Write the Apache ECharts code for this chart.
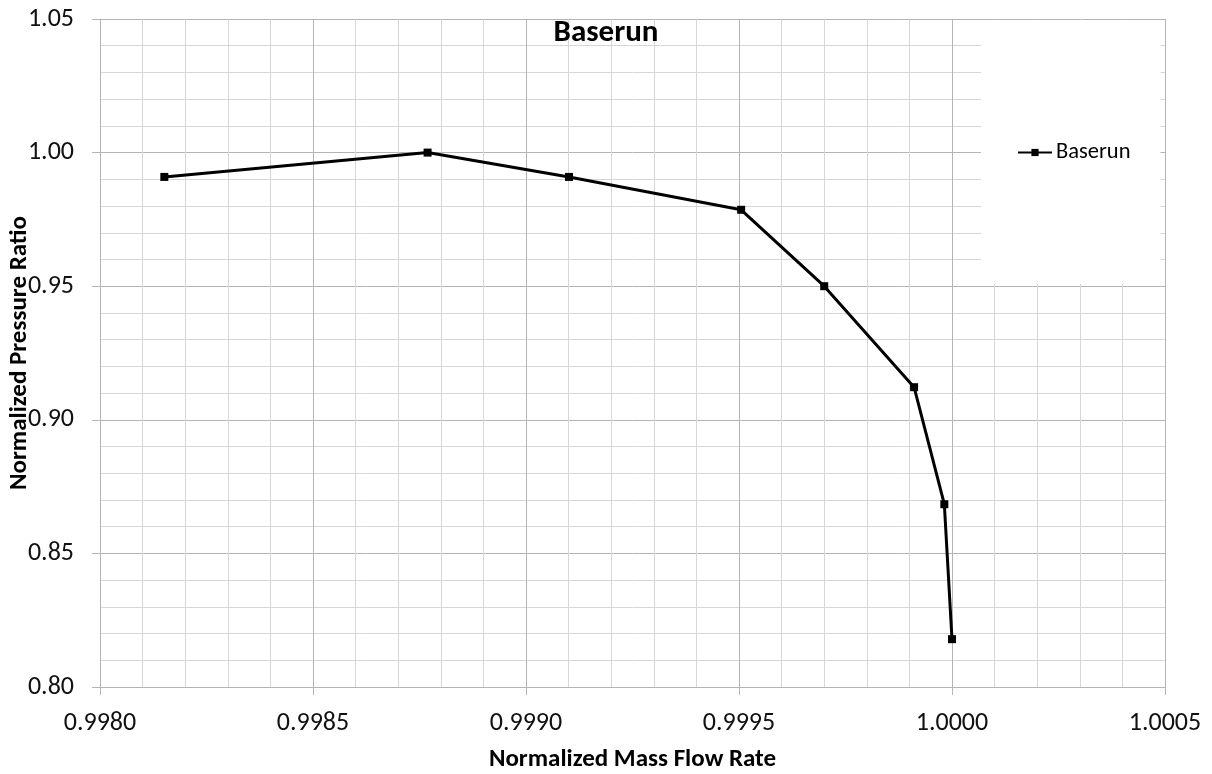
<!DOCTYPE html>
<html>
<head>
<meta charset="utf-8">
<title>Baserun</title>
<script src="https://cdn.jsdelivr.net/npm/echarts@6/dist/echarts.min.js"></script>
<style>
  html, body { margin: 0; padding: 0; background: #ffffff; }
  #chart { width: 1212px; height: 774px; }
</style>
</head>
<body>
<div id="chart"></div>
<script>
// Compressor characteristic: normalized mass flow vs normalized pressure ratio
const seriesName = 'Baserun';
const massFlow = [0.998151, 0.998769, 0.999101, 0.999505, 0.999700, 0.999911, 0.999982, 1.000000];
const pressureRatio = [0.9909, 1.0000, 0.9909, 0.9786, 0.9500, 0.9122, 0.8684, 0.8179];

const xRange = { min: 0.9980, max: 1.0005, step: 0.0005, digits: 4 };
const yRange = { min: 0.80, max: 1.05, step: 0.05, digits: 2 };

const FONT = 'Carlito, Lato, "Open Sans", sans-serif';
const MAJOR = '#b4b4b4';
const MINOR = '#d6d6d6';

const points = massFlow.map((x, i) => [x, pressureRatio[i]]);

const chart = echarts.init(document.getElementById('chart'), null, { renderer: 'canvas' });

function axisCommon(range, name) {
  return {
    type: 'value',
    name: name,
    nameLocation: 'middle',
    nameMoveOverlap: false,
    nameTextStyle: { fontFamily: FONT, fontSize: 25, fontWeight: 'bold', color: '#000' },
    min: range.min,
    max: range.max,
    interval: range.step,
    axisLine: { show: true, lineStyle: { color: MAJOR, width: 1 } },
    axisTick: { show: true, inside: false, length: 8, lineStyle: { color: MAJOR } },
    axisLabel: {
      fontFamily: FONT, fontSize: 26, color: '#111',
      formatter: v => Number(v).toFixed(range.digits)
    },
    splitLine: { show: true, lineStyle: { color: MAJOR, width: 1 } },
    minorTick: { show: false, splitNumber: 5 },
    minorSplitLine: { show: true, lineStyle: { color: MINOR, width: 1 } }
  };
}

const xAxis = axisCommon(xRange, 'Normalized Mass Flow Rate');
xAxis.nameGap = 60;
xAxis.axisLabel.margin = 23;

const yAxis = axisCommon(yRange, 'Normalized Pressure Ratio');
yAxis.nameGap = 68;
yAxis.nameRotate = 90;
yAxis.axisLabel.margin = 26;

chart.setOption({
  backgroundColor: '#ffffff',
  animation: false,
  title: {
    text: seriesName,
    left: 'center',
    top: 13,
    textStyle: { fontFamily: FONT, fontSize: 31, fontWeight: 'bold', color: '#000' }
  },
  grid: { left: 100, right: 47, top: 19, bottom: 87, containLabel: false, outerBoundsMode: 'none' },
  legend: {
    data: [seriesName],
    left: 981,
    top: 20,
    orient: 'vertical',
    backgroundColor: '#ffffff',
    padding: [121, 30, 120, 36],
    itemWidth: 34,
    itemHeight: 9,
    itemGap: 0,
    textStyle: { fontFamily: FONT, fontSize: 22.5, color: '#000', padding: [0, 0, 0, -1] }
  },
  xAxis: xAxis,
  yAxis: yAxis,
  series: [{
    name: seriesName,
    type: 'line',
    data: points,
    symbol: 'rect',
    symbolSize: 8,
    showSymbol: true,
    lineStyle: { color: '#000', width: 3 },
    itemStyle: { color: '#000' },
    z: 5
  }]
});
</script>
</body>
</html>
